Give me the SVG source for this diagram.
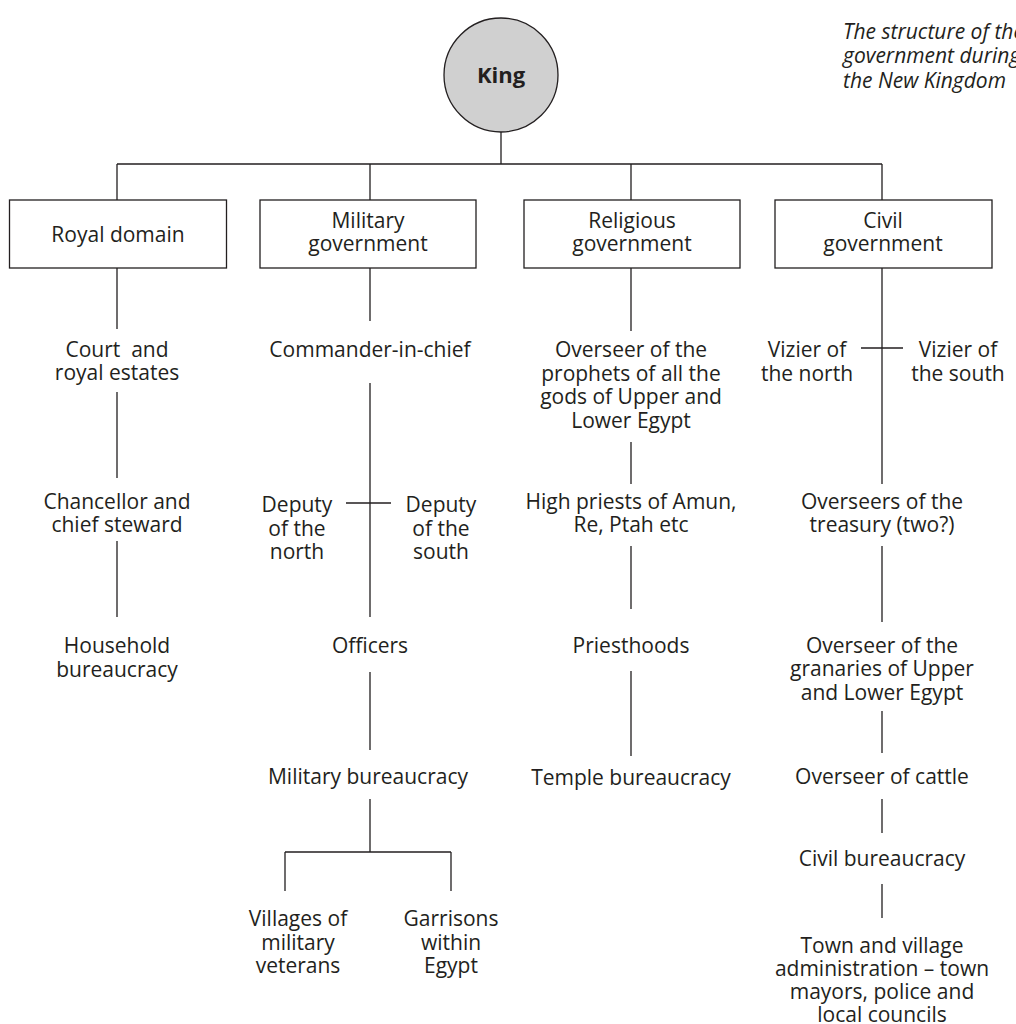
<svg xmlns="http://www.w3.org/2000/svg" width="1016" height="1024" viewBox="0 0 1016 1024">
<style>
text{font-family:"Open Sans","Noto Sans","DejaVu Sans",sans-serif;font-size:21px;fill:#231f20;text-anchor:middle}
.cap{font-style:italic;text-anchor:start}
.king{font-weight:bold;font-size:22px}
.box{fill:#fff;stroke:#231f20;stroke-width:1.3}
.ln{stroke:#231f20;stroke-width:1.3;fill:none}
</style>
<rect width="1016" height="1024" fill="#fff"/>
<g id="caption">
<text class="cap" x="843" y="39">The structure of the</text>
<text class="cap" x="843" y="63">government during</text>
<text class="cap" x="843" y="88">the New Kingdom</text>
</g>
<g id="connectors">
<path class="ln" d="M501 132V164M117 164H882M117 164V200M370 164V200M631 164V200M882 164V200"/>
<path class="ln" d="M117 268V329M117 392V478M117 541V617"/>
<path class="ln" d="M370 268V321M370 383V617M346 503H391M370 672V750M370 799V852M285 852H451M285 852V891M451 852V891"/>
<path class="ln" d="M631 268V331M631 442V484M631 546V609M631 671V756"/>
<path class="ln" d="M882 268V484M861 348H903M882 546V622M882 711V753M882 799V833M882 884V918"/>
</g>
<g id="king">
<circle cx="501" cy="75" r="57" fill="#d0d0d0" stroke="#231f20" stroke-width="1.3"/>
<text class="king" x="501" y="83">King</text>
</g>
<g id="royal-domain">
<rect class="box" x="9.5" y="200" width="217" height="68"/>
<text x="118" y="242">Royal domain</text>
</g>
<g id="military-government">
<rect class="box" x="260" y="200" width="216" height="68"/>
<text x="368" y="228">Military</text>
<text x="368" y="251">government</text>
</g>
<g id="religious-government">
<rect class="box" x="524" y="200" width="216" height="68"/>
<text x="632" y="228">Religious</text>
<text x="632" y="251">government</text>
</g>
<g id="civil-government">
<rect class="box" x="775" y="200" width="217" height="68"/>
<text x="883" y="228">Civil</text>
<text x="883" y="251">government</text>
</g>
<g id="court">
<text x="117" y="357" xml:space="preserve">Court  and</text>
<text x="117" y="380">royal estates</text>
</g>
<g id="chancellor">
<text x="117" y="509">Chancellor and</text>
<text x="117" y="532">chief steward</text>
</g>
<g id="household">
<text x="117" y="653">Household</text>
<text x="117" y="677">bureaucracy</text>
</g>
<g id="commander">
<text x="370" y="357">Commander-in-chief</text>
</g>
<g id="deputy-north">
<text x="297" y="512">Deputy</text>
<text x="297" y="536">of the</text>
<text x="297" y="559">north</text>
</g>
<g id="deputy-south">
<text x="441" y="512">Deputy</text>
<text x="441" y="536">of the</text>
<text x="441" y="559">south</text>
</g>
<g id="officers">
<text x="370" y="653">Officers</text>
</g>
<g id="military-bureaucracy">
<text x="368" y="784">Military bureaucracy</text>
</g>
<g id="villages">
<text x="298" y="926">Villages of</text>
<text x="298" y="950">military</text>
<text x="298" y="973">veterans</text>
</g>
<g id="garrisons">
<text x="451" y="926">Garrisons</text>
<text x="451" y="950">within</text>
<text x="451" y="973">Egypt</text>
</g>
<g id="overseer-prophets">
<text x="631" y="357">Overseer of the</text>
<text x="631" y="381">prophets of all the</text>
<text x="631" y="404">gods of Upper and</text>
<text x="631" y="428">Lower Egypt</text>
</g>
<g id="high-priests">
<text x="631" y="509">High priests of Amun,</text>
<text x="631" y="532">Re, Ptah etc</text>
</g>
<g id="priesthoods">
<text x="631" y="653">Priesthoods</text>
</g>
<g id="temple-bureaucracy">
<text x="631" y="785">Temple bureaucracy</text>
</g>
<g id="vizier-north">
<text x="807" y="357">Vizier of</text>
<text x="807" y="381">the north</text>
</g>
<g id="vizier-south">
<text x="958" y="357">Vizier of</text>
<text x="958" y="381">the south</text>
</g>
<g id="overseers-treasury">
<text x="882" y="509">Overseers of the</text>
<text x="882" y="532">treasury (two?)</text>
</g>
<g id="overseer-granaries">
<text x="882" y="653">Overseer of the</text>
<text x="882" y="676">granaries of Upper</text>
<text x="882" y="700">and Lower Egypt</text>
</g>
<g id="overseer-cattle">
<text x="882" y="784">Overseer of cattle</text>
</g>
<g id="civil-bureaucracy">
<text x="882" y="866">Civil bureaucracy</text>
</g>
<g id="town-village">
<text x="882" y="953">Town and village</text>
<text x="882" y="976">administration – town</text>
<text x="882" y="999">mayors, police and</text>
<text x="882" y="1022">local councils</text>
</g>
</svg>
